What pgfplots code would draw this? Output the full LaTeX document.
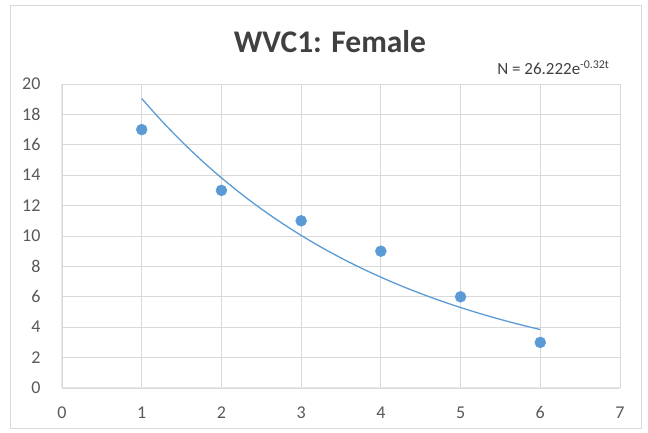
\documentclass[border=0pt]{standalone}
\usepackage{pgfplots}
\pgfplotsset{compat=1.18}
\usepackage{fontspec}
\setmainfont{Carlito}
\definecolor{ptblue}{HTML}{5B9BD5}
\definecolor{gridgray}{HTML}{D9D9D9}
\definecolor{txtgray}{HTML}{595959}
\definecolor{titlegray}{HTML}{404040}
\begin{document}
\begin{tikzpicture}
\path (-62pt,-45pt) rectangle (586pt,388pt);
\draw[gridgray, line width=1pt] (-51pt,-41pt) rectangle (579pt,382pt);
\begin{axis}[
  at={(0,0)}, anchor=south west,
  scale only axis, width=558pt, height=304pt,
  xmin=0, xmax=7, ymin=0, ymax=20,
  xtick={0,...,7}, ytick={0,2,...,20},
  grid=major, major grid style={gridgray, line width=0.8pt},
  axis line style={draw=none},
  major tick length=0pt,
  tick label style={font=\fontsize{18}{18}\selectfont, text=txtgray},
  /pgf/number format/assume math mode=true,
  xticklabel style={yshift=-15pt},
  yticklabel style={xshift=-18pt},
  clip=false,
]
\draw[gridgray!80!black!30, line width=1pt] (axis cs:0,0) -- (axis cs:0,20);
\draw[gridgray!80!black!30, line width=1pt] (axis cs:0,0) -- (axis cs:7,0);
\addplot[ptblue, line width=1.3pt, smooth] coordinates {
(1.0,19.041) (1.25,17.577) (1.5,16.226) (1.75,14.978) (2.0,13.827)
(2.25,12.764) (2.5,11.782) (2.75,10.877) (3.0,10.040) (3.25,9.268)
(3.5,8.556) (3.75,7.898) (4.0,7.291) (4.25,6.730) (4.5,6.213)
(4.75,5.735) (5.0,5.294) (5.25,4.887) (5.5,4.511) (5.75,4.165) (6.0,3.844)};
\addplot[only marks, mark=*, mark size=5.5pt, ptblue, mark options={fill=ptblue, draw=ptblue}] coordinates {
(1,17) (2,13) (3,11) (4,9) (5,6) (6,3)};
\end{axis}
\node[font=\fontsize{31.5}{31.5}\selectfont\bfseries, text=titlegray] at (268pt,346pt) {WVC1: Female};
\node[font=\fontsize{17}{17}\selectfont, text=titlegray, anchor=east] at (551pt,320pt) {N = 26.222e\textsuperscript{-0.32t}};
\end{tikzpicture}
\end{document}
